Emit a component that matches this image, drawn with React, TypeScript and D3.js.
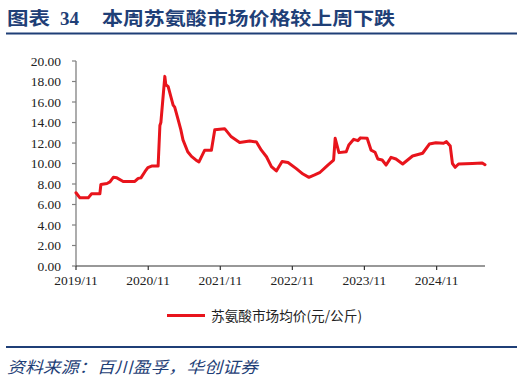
import React from "react";
import * as d3 from "d3";

const dates: string[] = [
  "2019-11-01","2019-11-21","2020-01-02","2020-01-19","2020-03-01","2020-03-06","2020-04-06","2020-04-21",
  "2020-05-08","2020-05-26","2020-06-27","2020-08-25","2020-09-11","2020-09-25","2020-10-15","2020-10-30",
  "2020-11-18","2020-12-21","2020-12-30","2021-01-04","2021-01-24","2021-01-29","2021-02-10","2021-03-07",
  "2021-03-15","2021-04-01","2021-04-15","2021-04-26","2021-05-20","2021-06-08","2021-06-30","2021-07-16",
  "2021-08-14","2021-09-17","2021-10-04","2021-11-23","2021-12-27","2022-02-07","2022-03-30","2022-05-03",
  "2022-05-28","2022-06-23","2022-07-18","2022-08-12","2022-09-10","2022-10-10","2022-11-21","2022-12-25",
  "2023-01-24","2023-02-22","2023-03-19","2023-04-30","2023-05-29","2023-06-06","2023-06-25","2023-08-01",
  "2023-08-14","2023-09-08","2023-09-29","2023-10-12","2023-11-15","2023-12-05","2023-12-25","2024-01-08",
  "2024-01-30","2024-02-19","2024-03-15","2024-04-09","2024-05-13","2024-07-02","2024-08-22","2024-09-25",
  "2024-10-28","2024-12-06","2024-12-21","2025-01-09","2025-01-20","2025-02-03","2025-02-20","2025-05-01",
  "2025-06-20","2025-07-04"
];

const prices: number[] = [
  7.15,6.65,6.65,7.05,7.05,7.95,8.05,8.2,
  8.65,8.6,8.25,8.25,8.55,8.6,9.2,9.6,
  9.75,9.75,13.7,14.0,18.5,17.7,17.5,15.7,
  15.5,14.3,13.3,12.3,11.15,10.7,10.35,10.15,
  11.3,11.3,13.3,13.4,12.6,12.05,12.2,12.1,
  11.3,10.66,9.7,9.27,10.2,10.1,9.5,8.97,
  8.65,8.88,9.1,9.85,10.34,12.46,11.06,11.15,
  11.8,12.36,12.23,12.5,12.46,11.3,11.1,10.44,
  10.34,9.85,10.6,10.44,9.95,10.73,11.0,11.9,
  12.03,11.97,12.13,11.7,10.0,9.63,9.95,10.0,
  10.05,9.88
];

const yTicks: number[] = [0, 2, 4, 6, 8, 10, 12, 14, 16, 18, 20];
const xTickDates: string[] = ["2019-11-01","2020-11-01","2021-11-01","2022-11-01","2023-11-01","2024-11-01"];

const titlePrefix = "图表";
const titleNum = "34";
const titleMain = "本周苏氨酸市场价格较上周下跌";
const legendLabel = "苏氨酸市场均价(元/公斤)";
const sourceText = "资料来源：百川盈孚，华创证券";

const BLUE = "#1F3F77";
const RED = "#E8141C";

export default function App() {
  const parse = d3.timeParse("%Y-%m-%d");
  const data = dates.map((d, i) => ({ date: parse(d) as Date, v: prices[i] }));
  const x = d3.scaleTime()
    .domain([parse("2019-11-01") as Date, parse("2025-07-04") as Date])
    .range([76, 485]);
  const y = d3.scaleLinear().domain([0, 20]).range([266, 61]);
  const line = d3.line<{ date: Date; v: number }>()
    .x(d => x(d.date))
    .y(d => y(d.v))
    .curve(d3.curveLinear);
  const fmtX = d3.timeFormat("%Y/%m");
  const serif = "'Liberation Serif','Times New Roman',serif";
  const cjk = "'Noto Sans CJK SC','Noto Sans',sans-serif";

  return (
    <svg width={524} height={382} style={{ position: "absolute", left: 0, top: 0, background: "#fff" }}>
      <rect x={0} y={0} width={524} height={382} fill="#fff" />
      {/* Title */}
      <text x={7} y={25} fontFamily={cjk} fontWeight={700} fontSize={18} fill={BLUE} textLength={43} lengthAdjust="spacingAndGlyphs">{titlePrefix}</text>
      <text x={60} y={25} fontFamily={serif} fontWeight={700} fontSize={19} fill={BLUE}>{titleNum}</text>
      <text x={102} y={25} fontFamily={cjk} fontWeight={700} fontSize={18} fill={BLUE} textLength={293} lengthAdjust="spacingAndGlyphs">{titleMain}</text>
      <line x1={6} x2={517} y1={33.5} y2={33.5} stroke={BLUE} strokeWidth={2} />

      {/* Y axis */}
      <line x1={76} x2={76} y1={61} y2={266} stroke="#808080" strokeWidth={1.3} />
      {yTicks.map(t => (
        <g key={"y" + t}>
          <line x1={72} x2={76} y1={y(t)} y2={y(t)} stroke="#808080" strokeWidth={1.2} />
          <text x={61} y={y(t)} dy="0.35em" textAnchor="end" fontFamily={serif} fontSize={13.5} fill="#222">{t.toFixed(2)}</text>
        </g>
      ))}

      {/* X axis */}
      <line x1={76} x2={485} y1={266} y2={266} stroke="#333" strokeWidth={1.2} />
      {xTickDates.map(s => {
        const d = parse(s) as Date;
        return (
          <g key={s}>
            <line x1={x(d)} x2={x(d)} y1={266} y2={270} stroke="#333" strokeWidth={1.2} />
            <text x={x(d)} y={285} textAnchor="middle" fontFamily={serif} fontSize={13.5} fill="#222">{fmtX(d)}</text>
          </g>
        );
      })}

      {/* Line */}
      <path d={line(data) || ""} fill="none" stroke={RED} strokeWidth={3} strokeLinejoin="round" strokeLinecap="round" />

      {/* Legend */}
      <line x1={167} x2={205} y1={315.5} y2={315.5} stroke={RED} strokeWidth={3} />
      <text x={211} y={320.5} fontFamily={cjk} fontSize={13.5} fill="#222" textLength={151} lengthAdjust="spacingAndGlyphs">{legendLabel}</text>

      {/* Footer */}
      <line x1={6} x2={517} y1={347} y2={347} stroke={BLUE} strokeWidth={2} />
      <text x={7} y={373} fontFamily={cjk} fontStyle="italic" fontSize={16} fill={BLUE} textLength={251} lengthAdjust="spacingAndGlyphs">{sourceText}</text>
    </svg>
  );
}
